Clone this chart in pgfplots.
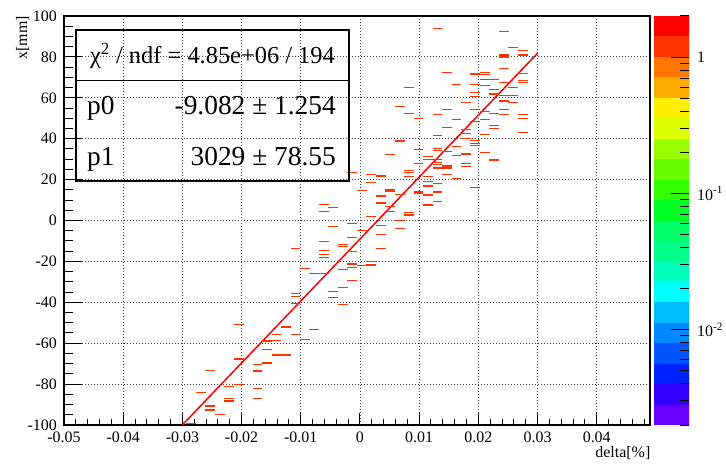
\documentclass[border=0pt]{standalone}
\usepackage{fontspec}
\setmainfont{Liberation Serif}
\usepackage{pgfplots}
\pgfplotsset{compat=1.18}

% palette of the z scale, bottom to top
\definecolor{zk0}{HTML}{6600FF}
\definecolor{zk1}{HTML}{3300FF}
\definecolor{zk2}{HTML}{0022FF}
\definecolor{zk3}{HTML}{0055FF}
\definecolor{zk4}{HTML}{0088FF}
\definecolor{zk5}{HTML}{00BBFF}
\definecolor{zk6}{HTML}{00FFFF}
\definecolor{zk7}{HTML}{00FFBB}
\definecolor{zk8}{HTML}{00FF88}
\definecolor{zk9}{HTML}{00FF66}
\definecolor{zk10}{HTML}{00FF22}
\definecolor{zk11}{HTML}{33FF00}
\definecolor{zk12}{HTML}{66FF00}
\definecolor{zk13}{HTML}{99FF00}
\definecolor{zk14}{HTML}{DDFF00}
\definecolor{zk15}{HTML}{FFEE00}
\definecolor{zk16}{HTML}{FFAA00}
\definecolor{zk17}{HTML}{FF7700}
\definecolor{zk18}{HTML}{FF3300}
\definecolor{zk19}{HTML}{FF0000}
\definecolor{binc}{HTML}{FF3300}

\newcommand{\zband}[3]{\addplot[fill=#1, draw=none, forget plot] coordinates {(0,#2) (1,#2) (1,#3) (0,#3)} -- cycle;}
\newcommand{\ticksize}{\fontsize{16}{16}\selectfont}

\begin{document}
\begin{tikzpicture}
\path[use as bounding box] (0bp,0bp) rectangle (726bp,467bp);

% histogram frame, grid, x ticks, bins and fit
\begin{axis}[
  at={(64bp,42bp)}, anchor=south west,
  scale only axis, width=586bp, height=409bp,
  xmin=-0.05, xmax=0.049, ymin=-100, ymax=100,
  axis line style={line width=2.2bp},
  scaled x ticks=false, scaled y ticks=false,
  xtick={-0.05,-0.04,-0.03,-0.02,-0.01,0,0.01,0.02,0.03,0.04},
  xticklabels={-0.05,-0.04,-0.03,-0.02,-0.01,0,0.01,0.02,0.03,0.04},
  minor xtick={-0.048,-0.046,...,0.048},
  ytick={-100,-80,...,100},
  yticklabels={},
  ytick style={draw=none},
  xtick pos=left,
  tick align=inside,
  major tick length=12.3bp, minor tick length=6.1bp,
  tick style={black, line width=1bp},
  xmajorgrids, ymajorgrids,
  major grid style={black!75, line width=0.9bp, dash pattern=on 1bp off 2bp},
  xticklabel style={font=\ticksize, anchor=north, inner sep=0pt, yshift=-6.5bp},
]
\addplot[only marks, mark=-, mark size=4.9bp, draw=binc,
         mark options={line width=1.3bp, draw=binc}] table {
x y
0.0131 94.0
0.0243 92.5
0.0259 84.7
0.0275 83.0
0.0243 80.9
0.0243 80.0
0.0275 80.9
0.0243 74.4
0.0147 72.5
0.0195 71.6
0.0211 72.5
0.0211 71.5
0.0275 72.0
0.0211 69.0
0.0227 69.0
0.0243 67.6
0.0275 68.4
0.0275 67.6
0.0163 66.6
0.0195 66.6
0.0211 66.1
0.0083 65.1
0.0259 65.1
0.0227 64.2
0.0195 62.7
0.0227 61.9
0.0243 61.2
0.0259 61.2
0.0195 60.7
0.0243 58.4
0.0179 57.8
0.0259 57.8
0.0067 55.8
0.0147 54.4
0.0195 54.4
0.0243 54.4
0.0211 53.4
0.0083 52.4
0.0227 52.4
0.0131 51.9
0.0243 51.9
0.0275 51.9
0.0099 50.0
0.0163 49.5
0.0211 49.5
0.0275 50.0
0.0195 48.5
0.0227 46.6
0.0147 45.6
0.0227 45.1
0.0179 44.6
0.0275 43.1
0.0179 42.6
0.0211 42.2
0.0131 41.7
0.0179 40.2
0.0195 39.0
0.0067 38.9
0.0195 37.7
0.0195 36.8
0.0163 36.3
0.0131 35.3
0.0099 34.8
0.0131 34.1
0.0147 33.8
0.0211 33.3
0.0179 32.5
0.0051 32.4
0.0163 31.9
0.0115 31.4
0.0115 29.9
0.0131 29.9
0.0227 29.6
0.0131 28.3
0.0099 28.0
0.0179 28.0
0.0131 27.5
0.0147 26.7
0.0179 26.3
0.0131 25.8
0.0131 25.3
0.0147 25.8
0.0147 25.3
0.0083 24.5
-0.0013 23.6
0.0083 23.4
0.0019 22.6
0.0147 22.6
0.0083 21.6
0.0035 21.4
0.0035 21.9
0.0115 21.6
0.0163 20.6
0.0115 19.0
0.0019 18.7
0.0131 18.2
0.0115 16.9
0.0195 16.0
0.0003 14.8
0.0051 14.9
0.0051 14.4
0.0099 13.9
0.0099 13.4
0.0131 13.9
0.0067 12.8
0.0115 12.5
0.0035 12.0
0.0131 9.4
0.0035 8.6
-0.0061 7.9
0.0115 7.6
0.0051 6.9
-0.0045 6.5
0.0051 4.5
-0.0061 4.5
0.0083 4.0
0.0083 2.7
0.0019 2.1
0.0067 0.1
-0.0013 -1.4
0.0035 -2.3
-0.0045 -2.8
0.0067 -3.8
0.0003 -4.8
0.0035 -6.7
-0.0013 -8.2
-0.0061 -10.2
-0.0029 -11.8
-0.0029 -12.8
-0.0109 -13.6
0.0035 -13.6
-0.0061 -14.6
-0.0013 -15.1
-0.0061 -16.5
-0.0061 -18.0
0.0019 -20.1
-0.0013 -20.9
-0.0013 -21.4
0.0019 -21.6
0.0019 -22.1
0.0003 -21.9
-0.0013 -22.9
-0.0093 -23.4
-0.0029 -23.9
-0.0077 -25.8
-0.0061 -25.8
-0.0013 -29.2
-0.0029 -32.7
-0.0045 -34.6
-0.0109 -35.6
-0.0109 -37.1
-0.0045 -37.6
-0.0109 -40.5
-0.0029 -41.0
-0.0205 -50.8
-0.0125 -52.1
-0.0077 -53.2
-0.0141 -55.6
-0.0109 -55.6
-0.0093 -58.1
-0.0141 -58.6
-0.0157 -58.9
-0.0157 -63.0
-0.0141 -65.8
-0.0125 -65.8
-0.0205 -67.7
-0.0157 -69.3
-0.0157 -69.8
-0.0173 -70.3
-0.0253 -73.3
-0.0173 -73.6
-0.0205 -80.1
-0.0221 -81.1
-0.0173 -82.1
-0.0269 -84.0
-0.0221 -86.9
-0.0173 -86.9
-0.0221 -88.3
-0.0253 -90.4
-0.0253 -90.9
-0.0253 -92.7
-0.0237 -94.8
-0.0285 -99.2
};
% straight-line fit p0 + p1*x, drawn over [-0.03, 0.03]
\addplot[red, line width=1.5bp, no marks] coordinates {(-0.03,-99.95) (0.03,81.79)};
\end{axis}

% y ticks and labels (longer tick marks than on x)
\begin{axis}[
  at={(64bp,42bp)}, anchor=south west,
  scale only axis, width=586bp, height=409bp,
  xmin=-0.05, xmax=0.049, ymin=-100, ymax=100,
  hide x axis,
  y axis line style={draw=none},
  ytick={-100,-80,...,100},
  yticklabels={-100,-80,-60,-40,-20,0,20,40,60,80,100},
  minor ytick={-95,-90,...,95},
  ytick pos=left,
  tick align=inside,
  major tick length=17.6bp, minor tick length=8.8bp,
  tick style={black, line width=1bp},
  yticklabel style={font=\ticksize, anchor=east, inner sep=0pt, xshift=-7bp},
]
\end{axis}

% z colour scale
\begin{axis}[
  at={(654bp,42bp)}, anchor=south west,
  scale only axis, width=35bp, height=409bp,
  xmin=0, xmax=1, ymode=log, ymin=0.002, ymax=2,
  hide x axis, axis on top,
  y axis line style={draw=none},
  ytick={0.01,0.1,1},
  yticklabels={{10\textsuperscript{-2}},{10\textsuperscript{-1}},1},
  minor ytick={0.002,0.003,0.004,0.005,0.006,0.007,0.008,0.009,0.02,0.03,0.04,0.05,0.06,0.07,0.08,0.09,0.2,0.3,0.4,0.5,0.6,0.7,0.8,0.9,2},
  ytick pos=right, yticklabel pos=right,
  tick align=inside,
  major tick length=17.7bp, minor tick length=9bp,
  tick style={black, line width=1bp},
  yticklabel style={font=\ticksize, anchor=west, inner sep=0pt, xshift=8bp},
]
\zband{zk0}{0.002}{0.0028251}
\zband{zk1}{0.0028251}{0.0039905}
\zband{zk2}{0.0039905}{0.0056368}
\zband{zk3}{0.0056368}{0.0079621}
\zband{zk4}{0.0079621}{0.0112468}
\zband{zk5}{0.0112468}{0.0158866}
\zband{zk6}{0.0158866}{0.0224404}
\zband{zk7}{0.0224404}{0.0316979}
\zband{zk8}{0.0316979}{0.0447744}
\zband{zk9}{0.0447744}{0.0632456}
\zband{zk10}{0.0632456}{0.0893367}
\zband{zk11}{0.0893367}{0.1261914}
\zband{zk12}{0.1261914}{0.1782502}
\zband{zk13}{0.1782502}{0.2517851}
\zband{zk14}{0.2517851}{0.3556559}
\zband{zk15}{0.3556559}{0.5023773}
\zband{zk16}{0.5023773}{0.7096268}
\zband{zk17}{0.7096268}{1.0023745}
\zband{zk18}{1.0023745}{1.4158916}
\zband{zk19}{1.4158916}{2.0}
\draw[line width=1bp] (rel axis cs:1,0) -- (rel axis cs:1,1);
\end{axis}

% axis titles
\node[rotate=90, anchor=base east, inner sep=0pt, font=\ticksize] at (27bp,451bp) {x[mm]};
\node[anchor=base east, inner sep=0pt, font=\ticksize] at (650.5bp,10bp) {delta[\%]};

% fit statistics box
\draw[line width=1.7bp] (76bp,286bp) rectangle (349bp,437bp);
\draw[line width=1bp] (76bp,386.3bp) -- (349bp,386.3bp);
\node[anchor=base, inner sep=0pt, font=\fontsize{24.5}{24.5}\selectfont] at (212.5bp,403.7bp) {χ\textsuperscript{2} / ndf = 4.85e+06 / 194};
\node[anchor=base west, inner sep=0pt, font=\fontsize{27.5}{27.5}\selectfont] at (87bp,352.7bp) {p0};
\node[anchor=base east, inner sep=0pt, font=\fontsize{27.5}{27.5}\selectfont] at (336bp,352.7bp) {-9.082 ± 1.254};
\node[anchor=base west, inner sep=0pt, font=\fontsize{27.5}{27.5}\selectfont] at (87bp,301.3bp) {p1};
\node[anchor=base east, inner sep=0pt, font=\fontsize{27.5}{27.5}\selectfont] at (336bp,301.3bp) {3029 ± 78.55};
\end{tikzpicture}
\end{document}
